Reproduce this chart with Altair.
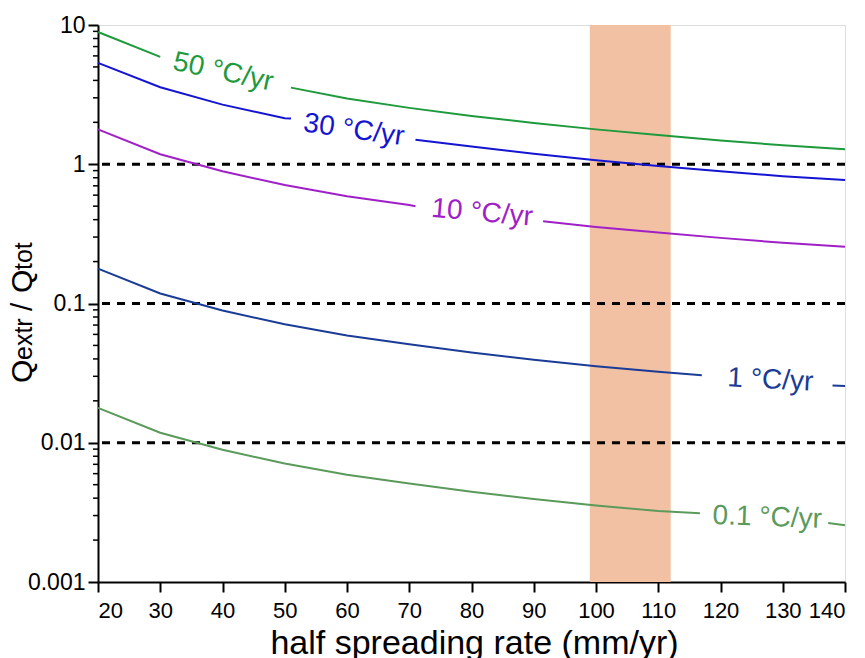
import altair as alt
import pandas as pd

rates = [20, 30, 40, 50, 60, 70, 80, 90, 100, 110, 120, 130, 140]
q50 = [8.9, 5.9, 4.45, 3.56, 2.97, 2.54, 2.22, 1.98, 1.78, 1.62, 1.48, 1.37, 1.28]
q30 = [5.35, 3.57, 2.68, 2.14, 1.78, 1.53, 1.34, 1.19, 1.07, 0.97, 0.89, 0.82, 0.77]
q10 = [1.78, 1.18, 0.89, 0.71, 0.59, 0.51, 0.445, 0.395, 0.355, 0.323, 0.296, 0.273, 0.256]
q1 = [0.178, 0.118, 0.089, 0.071, 0.059, 0.051, 0.0445, 0.0395, 0.0355, 0.0323, 0.0296, 0.0273, 0.0256]
q01 = [0.0178, 0.0118, 0.0089, 0.0071, 0.0059, 0.0051, 0.00445, 0.00395, 0.00355, 0.00323, 0.00296, 0.00273, 0.00256]

series_names = ["50 °C/yr", "30 °C/yr", "10 °C/yr", "1 °C/yr", "0.1 °C/yr"]
series_values = [q50, q30, q10, q1, q01]
series_colors = ["#1E9A3C", "#1414D2", "#A020C8", "#1A3C96", "#5A9A5A"]

# where each curve is interrupted by its label
gap_lo = [30, 51, 71, 117, 116.7]
gap_lo_val = [5.9, 2.13, 0.50, 0.0305, 0.00312]
gap_hi = [51, 71, 91.5, 138, 137.3]
gap_hi_val = [3.55, 1.50, 0.39, 0.0258, 0.00265]

label_x = [40.1, 61.1, 81.7, 128.0, 127.5]
label_y = [4.58, 1.75, 0.445, 0.028, 0.00289]
label_angle = [12, 8, 5, 3, 2]

ref_lines = [1, 0.1, 0.01]
band_lo = [99]
band_hi = [112]
y_major = [0.001, 0.01, 0.1, 1, 10]
y_minor = [m * d for d in [0.001, 0.01, 0.1, 1] for m in range(2, 10)]

FONT = "Liberation Sans, Arial, Helvetica, sans-serif"

rows = []
for name, vals, col, lo, lov, hi, hiv in zip(series_names, series_values, series_colors,
                                             gap_lo, gap_lo_val, gap_hi, gap_hi_val):
    for x, v in zip(rates, vals):
        if x < lo:
            rows.append({"key": name + "A", "x": x, "q": v, "color": col})
        elif x > hi:
            rows.append({"key": name + "B", "x": x, "q": v, "color": col})
    rows.append({"key": name + "A", "x": lo, "q": lov, "color": col})
    rows.append({"key": name + "B", "x": hi, "q": hiv, "color": col})
lines_df = pd.DataFrame(rows)

labels_df = pd.DataFrame({"x": label_x, "q": label_y, "text": series_names,
                          "color": series_colors, "angle": label_angle})

xscale = alt.Scale(domain=[20, 140], nice=False, zero=False)
yscale = alt.Scale(type="log", domain=[0.001, 10], nice=False)

xaxis = alt.Axis(values=rates, title="half spreading rate (mm/yr)",
                 titleX=376, titleY=71, titleBaseline="alphabetic", titleAlign="center")
yaxis = alt.Axis(values=y_major, format="~g", title=None)

band = alt.Chart(pd.DataFrame({"x0": band_lo, "x1": band_hi})).mark_rect(
    color="#F2C0A2").encode(
    x=alt.X("x0:Q", scale=xscale, axis=xaxis),
    x2="x1:Q")

refs = alt.Chart(pd.DataFrame({"q": ref_lines})).mark_rule(
    color="black", strokeWidth=3, strokeDash=[8, 7]).encode(
    y=alt.Y("q:Q", scale=yscale, axis=yaxis))

minor = alt.Chart(pd.DataFrame({"q": y_minor})).mark_rule(
    color="black", strokeWidth=1.5).encode(
    x=alt.value(0), x2=alt.value(-5),
    y=alt.Y("q:Q", scale=yscale, axis=yaxis))

lines = alt.Chart(lines_df).mark_line(strokeWidth=2).encode(
    x=alt.X("x:Q", scale=xscale, axis=xaxis),
    y=alt.Y("q:Q", scale=yscale, axis=yaxis),
    color=alt.Color("color:N", scale=None),
    detail="key:N",
    order="x:Q")

texts = alt.Chart(labels_df).mark_text(fontSize=28, font=FONT, align="center",
                                       baseline="middle").encode(
    x=alt.X("x:Q", scale=xscale, axis=xaxis),
    y=alt.Y("q:Q", scale=yscale, axis=yaxis),
    text="text:N",
    color=alt.Color("color:N", scale=None),
    angle=alt.Angle("angle:Q", scale=None))

# y-axis title with subscripts
title_parts = [("Q", 30, 358), ("extr", 25, 335), ("/", 30, 286), ("Q", 30, 268), ("tot", 25, 245)]
title_layers = []
for t, fs, yy in title_parts:
    title_layers.append(
        alt.Chart(pd.DataFrame({"t": [t]})).mark_text(
            fontSize=fs, font=FONT, align="left", baseline="alphabetic", angle=270,
            color="black").encode(text="t:N", x=alt.value(-66), y=alt.value(yy)))

chart = alt.layer(band, refs, lines, texts, minor, *title_layers).properties(
    width=747, height=557,
    autosize=alt.AutoSizeParams(type="none"),
    padding={"left": 90, "top": 17, "right": 4, "bottom": 76},
).configure_view(stroke="black", strokeWidth=2).configure(
    background="white"
).configure_axis(
    grid=False, domainColor="black", domainWidth=2, tickColor="black", tickWidth=2,
    tickSize=10, labelColor="black", labelFont=FONT, titleFont=FONT,
    titleColor="black", titleFontWeight="normal"
).configure_axisX(
    labelFontSize=22, labelPadding=8, titleFontSize=34
).configure_axisY(
    labelFontSize=23, labelPadding=3
)

chart.save("out.html", embed_options={"renderer": "svg", "actions": False})
